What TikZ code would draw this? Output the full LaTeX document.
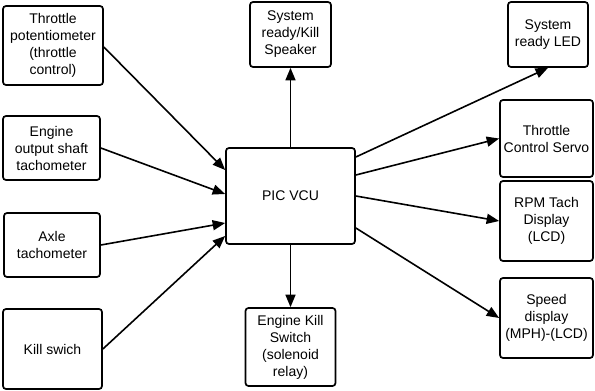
\documentclass[tikz,border=0pt]{standalone}
\usepackage{fontspec}
\setmainfont{Liberation Sans}
\usetikzlibrary{arrows.meta}
\begin{document}
\begin{tikzpicture}[x=1pt,y=-1pt,
  blk/.style={draw=black,line width=1.7pt,rounded corners=3pt,align=center,inner sep=1pt,
    font=\fontsize{14}{17}\selectfont,fill=white},
  arr/.style={line width=1.6pt,-{Triangle[length=12.5pt,width=10pt]}}]
\useasboundingbox (0,0) rectangle (595,391);
\node[blk,minimum width=100pt,minimum height=79pt] (tp) at (53,45.5) {Throttle\\potentiometer\\(throttle\\control)};
\node[blk,minimum width=97pt,minimum height=64pt] (eo) at (51.5,148) {Engine\\output shaft\\tachometer};
\node[blk,minimum width=96pt,minimum height=64pt] (ax) at (52,245) {Axle\\tachometer};
\node[blk,minimum width=99pt,minimum height=80pt] (ks) at (52.5,349) {Kill swich};
\node[blk,minimum width=129pt,minimum height=96pt] (pic) at (290.5,196) {PIC VCU};
\node[blk,minimum width=81pt,minimum height=65pt] (spk) at (290.5,34.5) {System\\ready/Kill\\Speaker};
\node[blk,minimum width=90pt,minimum height=78pt] (eks) at (290.5,347) {Engine Kill\\Switch\\(solenoid\\relay)};
\node[blk,minimum width=80pt,minimum height=65pt] (led) at (548,34.5) {System\\ready LED};
\node[blk,minimum width=93pt,minimum height=77pt] (srv) at (546.5,138.5) {Throttle\\Control Servo};
\node[blk,minimum width=93pt,minimum height=80pt] (rpm) at (546.5,221) {RPM Tach\\Display\\(LCD)};
\node[blk,minimum width=93pt,minimum height=80pt] (spd) at (546.5,318) {Speed\\display\\(MPH)-(LCD)};
\draw[arr] ([yshift=-1.5pt]tp.east) -- ([yshift=26pt]pic.west);
\draw[arr] (eo.east) -- ([yshift=2pt]pic.west);
\draw[arr] (ax.east) -- ([yshift=-27pt]pic.west);
\draw[arr] (ks.east) -- ([yshift=-40pt]pic.west);
\draw[arr] (pic.north) -- (spk.south);
\draw[arr] (pic.south) -- (eks.north);
\draw[arr] ([yshift=39pt]pic.east) -- (led.south);
\draw[arr] ([yshift=21pt]pic.east) -- (srv.west);
\draw[arr] (pic.east) -- (rpm.west);
\draw[arr] ([yshift=-32pt]pic.east) -- (spd.west);
\end{tikzpicture}
\end{document}
